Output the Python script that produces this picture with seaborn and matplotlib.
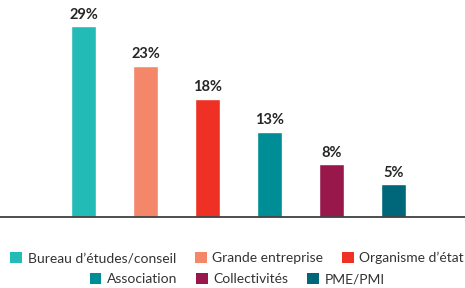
import pandas as pd
import seaborn as sns
import matplotlib.pyplot as plt
from matplotlib.patches import Patch

# categories, shares and colours
categories = ['Bureau d\u2019études/conseil', 'Grande entreprise', 'Organisme d\u2019état',
              'Association', 'Collectivités', 'PME/PMI']
shares = [29, 23, 18, 13, 8, 5]
colors = ['#22BBB5', '#F4876A', '#EE3124', '#008E96', '#99184C', '#00677A']

df = pd.DataFrame({'cat': categories, 'share': shares})

sns.set_style('white')
plt.rcParams['font.family'] = ['Lato', 'DejaVu Sans']

fig = plt.figure(figsize=(4.65, 2.88), dpi=100)
ax = fig.add_axes([0, 71 / 288, 1, 217 / 288])

sns.barplot(data=df, x='cat', y='share', hue='cat', palette=colors,
            width=0.403, legend=False, ax=ax, saturation=1)

# value labels above each bar
for i, v in enumerate(shares):
    ax.text(i, v + 0.7, f'{v}%', ha='center', va='bottom',
            fontsize=10.5, fontweight='bold', color='#262626')

ax.set_xlim(-1.347, 6.153)
ax.set_ylim(0, 33)
ax.set_xlabel('')
ax.set_ylabel('')
ax.set_xticks([])
ax.set_yticks([])
for s in ['top', 'right', 'left']:
    ax.spines[s].set_visible(False)
ax.spines['bottom'].set_color('#404040')
ax.spines['bottom'].set_linewidth(1.3)

# legend in two centred rows
handles = [Patch(facecolor=c, edgecolor='none') for c in colors]
kw = dict(loc='center', frameon=False, ncol=3, fontsize=10, handlelength=0.85,
          handleheight=0.85, handletextpad=0.4, columnspacing=1.35,
          labelcolor='#333333')
fig.legend(handles[:3], categories[:3], bbox_to_anchor=(0.51, 30 / 288), **kw)
fig.legend(handles[3:], categories[3:], bbox_to_anchor=(0.51, 9 / 288), **kw)

fig.savefig('out.png', dpi=100)
